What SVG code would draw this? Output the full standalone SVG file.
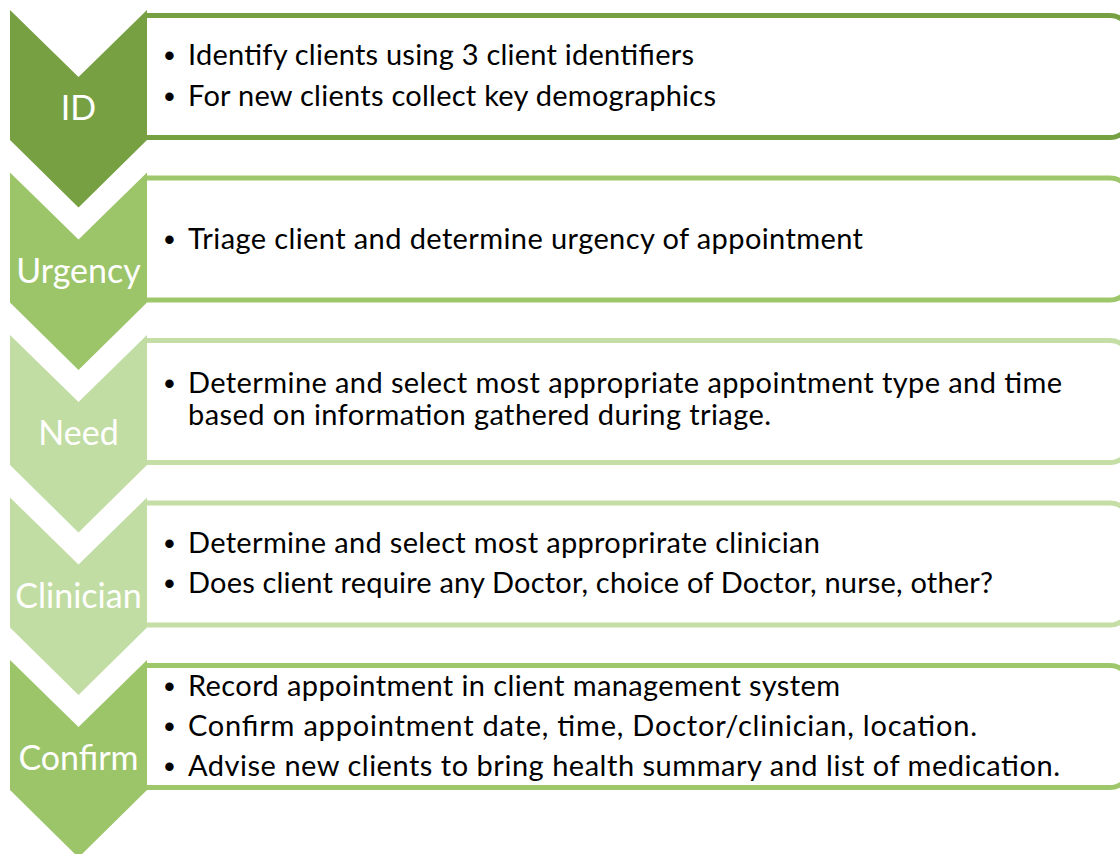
<svg xmlns="http://www.w3.org/2000/svg" width="1120" height="854" viewBox="0 0 1120 854">
  <style>
    .box { fill: #ffffff; stroke-width: 5; }
    .lbl { font-family: Lato, "Liberation Sans", sans-serif; font-size: 34px; fill: #ffffff; text-anchor: middle; }
    .txt { font-family: Lato, "Liberation Sans", sans-serif; font-size: 29px; fill: #000000; }
    .bul { font-family: "Liberation Sans", Arial, sans-serif; font-size: 31px; fill: #000000; }
    .dark { fill: #77a043; }
    .mid { fill: #9cc56a; }
    .light { fill: #c2dda3; }
    .s-dark { stroke: #77a043; }
    .s-mid { stroke: #9ec76b; }
    .s-light { stroke: #c4dea6; }
  </style>
  <defs>
    <!-- downward chevron, 137 wide, origin at its top-left corner -->
    <path id="chev" d="M0,0 L68.5,67 L137,0 L137,130 L68.5,197.5 L0,130 Z"/>
    <!-- text panel: open on the left where it meets the chevron, rounded on the right -->
    <path id="panel" d="M137,0 H1100 A20,20 0 0 1 1120,20 V102 A20,20 0 0 1 1100,122 H137"/>
  </defs>
  <rect width="1120" height="854" fill="#ffffff"/>

  <!-- ID -->
  <g id="step-id">
    <use href="#panel" x="10" y="15.5" class="box s-dark"/>
    <use href="#chev" x="10" y="10" class="dark"/>
    <text class="lbl" x="78.5" y="120">ID</text>
    <text class="bul" x="164" y="66">•</text>
    <text class="txt" x="188" y="65" textLength="506">Identify clients using 3 client identifiers</text>
    <text class="bul" x="164" y="107">•</text>
    <text class="txt" x="188" y="106" textLength="528">For new clients collect key demographics</text>
  </g>

  <!-- Urgency -->
  <g id="step-urgency">
    <use href="#panel" x="10" y="178" class="box s-mid"/>
    <use href="#chev" x="10" y="172.5" class="mid"/>
    <text class="lbl" x="78.5" y="283">Urgency</text>
    <text class="bul" x="164" y="250">•</text>
    <text class="txt" x="188" y="249" textLength="675">Triage client and determine urgency of appointment</text>
  </g>

  <!-- Need -->
  <g id="step-need">
    <use href="#panel" x="10" y="340.5" class="box s-light"/>
    <use href="#chev" x="10" y="335" class="light"/>
    <text class="lbl" x="78.5" y="445">Need</text>
    <text class="bul" x="164" y="394">•</text>
    <text class="txt" x="188" y="393" textLength="874">Determine and select most appropriate appointment type and time</text>
    <text class="txt" x="188" y="425" textLength="583">based on information gathered during triage.</text>
  </g>

  <!-- Clinician -->
  <g id="step-clinician">
    <use href="#panel" x="10" y="503" class="box s-light"/>
    <use href="#chev" x="10" y="497.5" class="light"/>
    <text class="lbl" x="78.5" y="608">Clinician</text>
    <text class="bul" x="164" y="554">•</text>
    <text class="txt" x="188" y="553" textLength="632">Determine and select most approprirate clinician</text>
    <text class="bul" x="164" y="594">•</text>
    <text class="txt" x="188" y="593" textLength="805">Does client require any Doctor, choice of Doctor, nurse, other?</text>
  </g>

  <!-- Confirm -->
  <g id="step-confirm">
    <use href="#panel" x="10" y="665.5" class="box s-mid"/>
    <use href="#chev" x="10" y="660" class="mid"/>
    <text class="lbl" x="78.5" y="770">Confirm</text>
    <text class="bul" x="164" y="697">•</text>
    <text class="txt" x="188" y="696" textLength="652">Record appointment in client management system</text>
    <text class="bul" x="164" y="737">•</text>
    <text class="txt" x="188" y="736" textLength="789">Confirm appointment date, time, Doctor/clinician, location.</text>
    <text class="bul" x="164" y="777">•</text>
    <text class="txt" x="188" y="776" textLength="872">Advise new clients to bring health summary and list of medication.</text>
  </g>
</svg>
